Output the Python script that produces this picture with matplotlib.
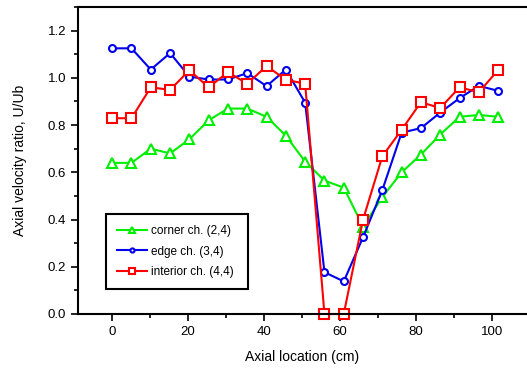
import matplotlib
matplotlib.use('Agg')
import matplotlib.pyplot as plt
from matplotlib.ticker import MultipleLocator

plt.rcParams['font.family'] = ['Liberation Sans', 'DejaVu Sans']

# axial locations, cm (every 2 in)
location = [0, 5.08, 10.16, 15.24, 20.32, 25.4, 30.48, 35.56, 40.64, 45.72, 50.8,
            55.88, 60.96, 66.04, 71.12, 76.2, 81.28, 86.36, 91.44, 96.52, 101.6]

corner = [0.64, 0.64, 0.70, 0.68, 0.74, 0.82, 0.87, 0.87, 0.835, 0.755, 0.645,
          0.565, 0.535, 0.37, 0.495, 0.60, 0.675, 0.76, 0.835, 0.843, 0.835]
edge = [1.125, 1.125, 1.035, 1.105, 1.005, 0.993, 0.993, 1.02, 0.965, 1.035, 0.895,
        0.177, 0.138, 0.325, 0.525, 0.768, 0.787, 0.853, 0.914, 0.966, 0.945]
interior = [0.829, 0.829, 0.96, 0.949, 1.032, 0.96, 1.024, 0.975, 1.05, 0.992, 0.975,
            0.0, 0.0, 0.40, 0.668, 0.78, 0.897, 0.872, 0.96, 0.939, 1.033]

labels = ['corner ch. (2,4)', 'edge ch. (3,4)', 'interior ch. (4,4)']

fig = plt.figure(figsize=(5.27, 3.69), dpi=100)
ax = fig.add_axes([78/527, 1 - 314/369, (527 - 78)/527, (314 - 7)/369])

ax.plot(location, corner, color='#00ee00', lw=1.5, marker='^', ms=7.5,
        mfc='white', mec='#00ee00', mew=1.5, label=labels[0])
ax.plot(location, edge, color='#0000ee', lw=1.5, marker='o', ms=5,
        mfc='white', mec='#0000ee', mew=1.5, label=labels[1])
ax.plot(location, interior, color='#ff0000', lw=1.5, marker='s', ms=7,
        mfc='white', mec='#ff0000', mew=1.5, label=labels[2], clip_on=False)

ax.set_xlim(-9, 109.2)
ax.set_ylim(0, 1.3)
ax.xaxis.set_major_locator(MultipleLocator(20))
ax.xaxis.set_minor_locator(MultipleLocator(10))
ax.yaxis.set_major_locator(MultipleLocator(0.2))
ax.yaxis.set_minor_locator(MultipleLocator(0.1))
ax.yaxis.set_major_formatter(matplotlib.ticker.FormatStrFormatter('%.1f'))

ax.spines['right'].set_visible(False)
for s in ['left', 'bottom', 'top']:
    ax.spines[s].set_linewidth(1.5)
ax.tick_params(which='major', direction='out', length=5, width=1.2, labelsize=9.5)
ax.tick_params(which='minor', direction='out', length=3, width=1.2)
ax.tick_params(top=False, right=False)

ax.set_xlabel('Axial location (cm)', fontsize=10, labelpad=9)
ax.set_ylabel('Axial velocity ratio, U/Ub', fontsize=10, labelpad=15)

leg = ax.legend(loc='lower left', bbox_to_anchor=(100/527, 1 - 295/369, 154/527, 72/369),
                bbox_transform=fig.transFigure, mode='expand', fancybox=False,
                edgecolor='black', fontsize=8.5, handlelength=2.6, handletextpad=0.3,
                borderpad=0.9, labelspacing=0.75, framealpha=1, markerscale=0.6)
leg.get_frame().set_linewidth(1.5)

fig.savefig('out.png', dpi=100)
